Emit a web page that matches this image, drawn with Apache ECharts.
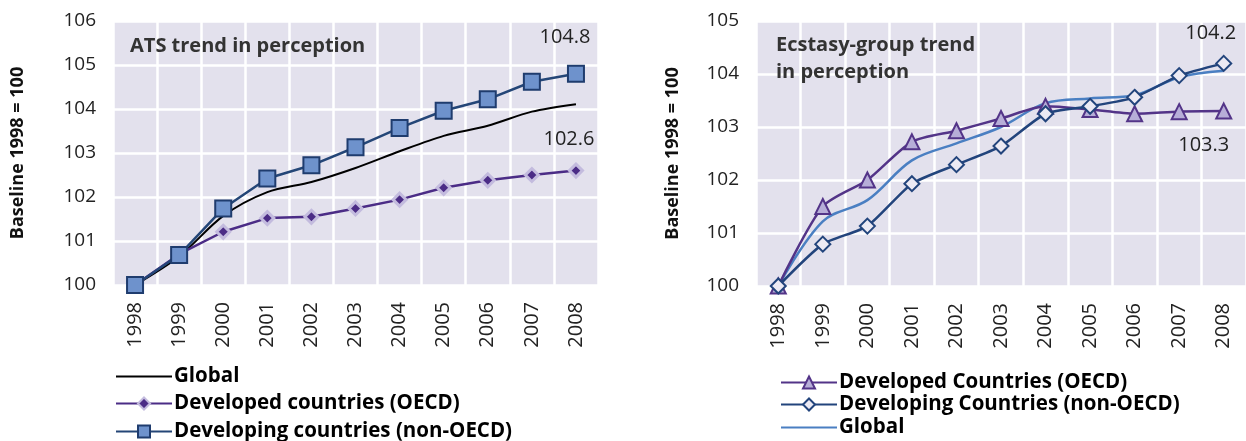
<!DOCTYPE html>
<html>
<head>
<meta charset="utf-8">
<style>
  html, body { margin: 0; padding: 0; background: #ffffff; }
  #chart { width: 1246px; height: 441px; }
</style>
<script src="https://cdn.jsdelivr.net/npm/echarts@6/dist/echarts.min.js"></script>
</head>
<body>
<div id="chart"></div>
<script>
// Years on the horizontal axis (shared by both panels)
const years = ['1998', '1999', '2000', '2001', '2002', '2003', '2004', '2005', '2006', '2007', '2008'];

// ATS panel: index, baseline 1998 = 100
const atsGlobal     = [100, 100.65, 101.57, 102.11, 102.34, 102.66, 103.04, 103.39, 103.62, 103.94, 104.11];
const atsDeveloped  = [100, 100.70, 101.21, 101.52, 101.55, 101.74, 101.94, 102.21, 102.38, 102.50, 102.6];
const atsDeveloping = [100, 100.68, 101.74, 102.42, 102.72, 103.13, 103.57, 103.96, 104.22, 104.62, 104.8];

// Ecstasy-group panel: index, baseline 1998 = 100
const ecsDeveloped  = [100, 101.50, 102.00, 102.72, 102.93, 103.16, 103.39, 103.33, 103.25, 103.29, 103.3];
const ecsDeveloping = [100, 100.79, 101.13, 101.93, 102.29, 102.64, 103.25, 103.39, 103.56, 103.97, 104.2];
const ecsGlobal     = [100, 101.22, 101.62, 102.37, 102.69, 103.00, 103.45, 103.54, 103.60, 103.94, 104.06];

// Axis ranges (tick labels run from the first to the last entry, step 1)
const atsTicks = [100, 101, 102, 103, 104, 105, 106];
const ecsTicks = [100, 101, 102, 103, 104, 105];

// Legend entries, in display order for each panel
const atsLegend = ['Global', 'Developed countries (OECD)', 'Developing countries (non-OECD)'];
const ecsLegend = ['Developed Countries (OECD)', 'Developing Countries (non-OECD)', 'Global '];

const FONT = '"Open Sans", "Noto Sans", sans-serif';
const PLOT_BG = '#e3e1ed';
const GRID_LINE = { color: '#ffffff', width: 2.5 };

// Shows the value only on the final point of a series
function endLabel(offset) {
  return {
    show: true,
    position: 'inside',
    offset: offset,
    fontFamily: FONT,
    fontSize: 20,
    color: '#222222',
    formatter: p => (p.dataIndex === years.length - 1 ? p.value.toFixed(1) : '')
  };
}

function xAxisFor(gridIndex) {
  return {
    type: 'category',
    gridIndex: gridIndex,
    data: years,
    boundaryGap: true,
    axisLine: { show: false },
    axisTick: { show: false },
    axisLabel: { rotate: 90, margin: 17, fontFamily: FONT, fontSize: 20, color: '#222222' },
    splitLine: { show: true, lineStyle: GRID_LINE }
  };
}

function yAxisFor(gridIndex, ticks, nameGap) {
  return {
    type: 'value',
    gridIndex: gridIndex,
    min: ticks[0],
    max: ticks[ticks.length - 1],
    interval: 1,
    name: 'Baseline 1998 = 100',
    nameLocation: 'middle',
    nameRotate: 90,
    nameGap: nameGap,
    nameTextStyle: { fontFamily: FONT, fontSize: 18, fontWeight: 'bold', color: '#111111' },
    axisLine: { show: false },
    axisTick: { show: false },
    axisLabel: { margin: 17, fontFamily: FONT, fontSize: 19, color: '#222222' },
    splitLine: { show: true, lineStyle: GRID_LINE }
  };
}

// One legend block per entry so each row sits at its own height
function legendRow(name, left, top, lineOnly) {
  return {
    left: left, top: top, padding: 0,
    itemWidth: 56, itemHeight: 15,
    data: [lineOnly ? { name: name, itemStyle: { opacity: 0 } } : name],
    textStyle: { fontFamily: FONT, fontSize: 20.5, fontWeight: 'bold', color: '#000000', padding: [0, 0, 0, -3] }
  };
}

const chart = echarts.init(document.getElementById('chart'), null, { renderer: 'canvas' });

chart.setOption({
  animation: false,
  backgroundColor: '#ffffff',
  textStyle: { fontFamily: FONT },
  title: [
    {
      text: 'ATS trend in perception',
      left: 130, top: 36, padding: 0,
      textStyle: { fontFamily: FONT, fontSize: 20, fontWeight: 'bold', color: '#333333' }
    },
    {
      text: 'Ecstasy-group trend\nin perception',
      left: 776, top: 32, padding: 0,
      textStyle: { fontFamily: FONT, fontSize: 20, fontWeight: 'bold', color: '#333333', lineHeight: 27 }
    }
  ],
  grid: [
    { left: 113, top: 21, width: 485, height: 264, show: true, backgroundColor: PLOT_BG, borderWidth: 0 },
    { left: 756, top: 21, width: 495, height: 265, show: true, backgroundColor: PLOT_BG, borderWidth: 0 }
  ],
  xAxis: [xAxisFor(0), xAxisFor(1)],
  yAxis: [yAxisFor(0, atsTicks, 86), yAxisFor(1, ecsTicks, 74)],
  legend: [
    legendRow(atsLegend[0], 115, 366, true),
    legendRow(atsLegend[1], 115, 393, false),
    legendRow(atsLegend[2], 115, 421, false),
    legendRow(ecsLegend[0], 780, 372, false),
    legendRow(ecsLegend[1], 780, 394, false),
    legendRow(ecsLegend[2], 780, 417, true)
  ],
  series: [
    // ATS panel
    {
      name: atsLegend[0], type: 'line', xAxisIndex: 0, yAxisIndex: 0,
      data: atsGlobal, smooth: 0.3, symbol: 'none',
      lineStyle: { color: '#000000', width: 2 }, itemStyle: { color: '#000000' }, z: 3
    },
    {
      name: atsLegend[1], type: 'line', xAxisIndex: 0, yAxisIndex: 0,
      data: atsDeveloped, symbol: 'diamond', symbolSize: 13,
      lineStyle: { color: '#4b2c86', width: 2.5 },
      itemStyle: { color: '#4b2c86', borderColor: '#c3bbde', borderWidth: 3 },
      label: endLabel([-7, -31]), z: 4
    },
    {
      name: atsLegend[2], type: 'line', xAxisIndex: 0, yAxisIndex: 0,
      data: atsDeveloping, symbol: 'rect', symbolSize: 16,
      lineStyle: { color: '#244677', width: 2.5 },
      itemStyle: { color: '#6e92cc', borderColor: '#1f3c6e', borderWidth: 2 },
      label: endLabel([-11, -37]), z: 5
    },
    // Ecstasy-group panel
    {
      name: ecsLegend[0], type: 'line', xAxisIndex: 1, yAxisIndex: 1,
      data: ecsDeveloped, smooth: 0.25, symbol: 'triangle', symbolSize: 15,
      lineStyle: { color: '#533488', width: 2.5 },
      itemStyle: { color: '#b7aed8', borderColor: '#533488', borderWidth: 2 },
      label: endLabel([-20, 34]), z: 4
    },
    {
      name: ecsLegend[1], type: 'line', xAxisIndex: 1, yAxisIndex: 1,
      data: ecsDeveloping, smooth: 0.2, symbol: 'diamond', symbolSize: 15,
      lineStyle: { color: '#22447c', width: 2.5 },
      itemStyle: { color: '#eceaf4', borderColor: '#22447c', borderWidth: 2 },
      label: endLabel([-13, -30]), z: 5
    },
    {
      name: ecsLegend[2], type: 'line', xAxisIndex: 1, yAxisIndex: 1,
      data: ecsGlobal, smooth: 0.35, symbol: 'none',
      lineStyle: { color: '#4a7fc2', width: 2.5 }, itemStyle: { color: '#4a7fc2' }, z: 3
    }
  ]
});
</script>
</body>
</html>
